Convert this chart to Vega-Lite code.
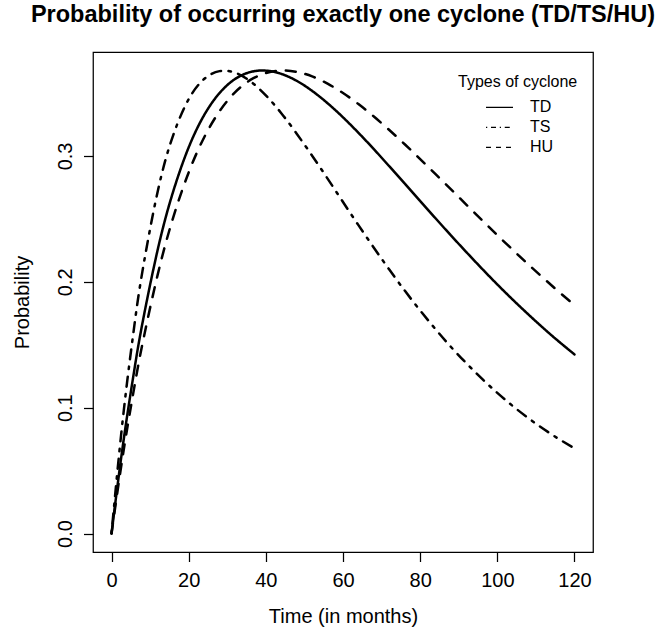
{
  "$schema": "https://vega.github.io/schema/vega-lite/v6.json",
  "width": 500,
  "height": 500,
  "autosize": {"type": "none"},
  "padding": {"left": 93, "top": 52, "right": 68, "bottom": 85},
  "background": "white",
  "title": {
    "text": "Probability of occurring exactly one cyclone (TD/TS/HU)",
    "font": "Liberation Sans",
    "fontSize": 23.5,
    "fontWeight": "bold",
    "color": "black",
    "anchor": "middle",
    "frame": "group",
    "baseline": "alphabetic",
    "offset": 7
  },
  "config": {
    "view": {"stroke": "black", "strokeWidth": 1.25},
    "axis": {
      "domain": false,
      "grid": false,
      "ticks": true,
      "tickSize": 9.5,
      "tickColor": "black",
      "tickWidth": 1.25,
      "labelFont": "Liberation Sans",
      "labelFontSize": 20,
      "labelColor": "black",
      "titleFont": "Liberation Sans",
      "titleFontSize": 20,
      "titleFontWeight": "normal",
      "titleColor": "black"
    }
  },
  "data": {
    "values": [
      {"t": 0, "TD": 0, "TS": 0, "HU": 0},
      {"t": 2, "TD": 0.0486, "TS": 0.0639, "HU": 0.0430},
      {"t": 4, "TD": 0.0924, "TS": 0.1193, "HU": 0.0823},
      {"t": 6, "TD": 0.1317, "TS": 0.1671, "HU": 0.1179},
      {"t": 8, "TD": 0.1669, "TS": 0.2081, "HU": 0.1504},
      {"t": 12, "TD": 0.2259, "TS": 0.2722, "HU": 0.2061},
      {"t": 16, "TD": 0.2719, "TS": 0.3166, "HU": 0.2512},
      {"t": 20, "TD": 0.3068, "TS": 0.3451, "HU": 0.2869},
      {"t": 24, "TD": 0.3324, "TS": 0.3611, "HU": 0.3147},
      {"t": 28, "TD": 0.3500, "TS": 0.3674, "HU": 0.3355},
      {"t": 32, "TD": 0.3611, "TS": 0.3662, "HU": 0.3505},
      {"t": 36, "TD": 0.3667, "TS": 0.3593, "HU": 0.3604},
      {"t": 40, "TD": 0.3678, "TS": 0.3481, "HU": 0.3659},
      {"t": 44, "TD": 0.3652, "TS": 0.3340, "HU": 0.3679},
      {"t": 48, "TD": 0.3597, "TS": 0.3177, "HU": 0.3668},
      {"t": 52, "TD": 0.3517, "TS": 0.3002, "HU": 0.3632},
      {"t": 56, "TD": 0.3419, "TS": 0.2820, "HU": 0.3574},
      {"t": 60, "TD": 0.3307, "TS": 0.2634, "HU": 0.3500},
      {"t": 64, "TD": 0.3184, "TS": 0.2450, "HU": 0.3412},
      {"t": 68, "TD": 0.3054, "TS": 0.2271, "HU": 0.3313},
      {"t": 72, "TD": 0.2918, "TS": 0.2097, "HU": 0.3206},
      {"t": 76, "TD": 0.2781, "TS": 0.1930, "HU": 0.3093},
      {"t": 80, "TD": 0.2642, "TS": 0.1772, "HU": 0.2975},
      {"t": 84, "TD": 0.2504, "TS": 0.1623, "HU": 0.2855},
      {"t": 88, "TD": 0.2368, "TS": 0.1482, "HU": 0.2734},
      {"t": 92, "TD": 0.2235, "TS": 0.1352, "HU": 0.2612},
      {"t": 96, "TD": 0.2105, "TS": 0.1230, "HU": 0.2491},
      {"t": 100, "TD": 0.1979, "TS": 0.1117, "HU": 0.2371},
      {"t": 104, "TD": 0.1858, "TS": 0.1013, "HU": 0.2254},
      {"t": 108, "TD": 0.1742, "TS": 0.0918, "HU": 0.2139},
      {"t": 112, "TD": 0.1630, "TS": 0.0830, "HU": 0.2028},
      {"t": 116, "TD": 0.1524, "TS": 0.0750, "HU": 0.1919},
      {"t": 120, "TD": 0.1423, "TS": 0.0677, "HU": 0.1815}
    ]
  },
  "transform": [{"fold": ["TD", "TS", "HU"], "as": ["type", "p"]}],
  "encoding": {
    "x": {
      "field": "t",
      "type": "quantitative",
      "scale": {"domain": [-4.8, 124.8], "nice": false, "zero": false},
      "axis": {
        "values": [0, 20, 40, 60, 80, 100, 120],
        "title": "Time (in months)",
        "labelBaseline": "alphabetic",
        "labelPadding": 25,
        "titleBaseline": "alphabetic",
        "titleY": 70
      }
    },
    "y": {
      "field": "p",
      "type": "quantitative",
      "scale": {"domain": [-0.0147, 0.3826], "nice": false, "zero": false},
      "axis": {
        "values": [0, 0.1, 0.2, 0.3],
        "format": ".1f",
        "title": "Probability",
        "labelAngle": 270,
        "labelAlign": "center",
        "labelBaseline": "alphabetic",
        "labelPadding": 12.5,
        "titleAngle": 270,
        "titleAlign": "center",
        "titleBaseline": "alphabetic",
        "titleX": -65,
        "titleY": 250
      }
    }
  },
  "layer": [
    {
      "mark": {
        "type": "line",
        "color": "black",
        "strokeWidth": 2.5,
        "strokeCap": "round",
        "strokeJoin": "round",
        "interpolate": "natural"
      },
      "encoding": {
        "strokeDash": {
          "field": "type",
          "type": "nominal",
          "scale": {
            "domain": ["TD", "TS", "HU"],
            "range": [[1, 0], [2.5, 7.5, 10, 7.5], [10, 10]]
          },
          "legend": null
        }
      }
    },
    {
      "mark": {
        "type": "line",
        "color": "black",
        "strokeWidth": 1.25,
        "strokeOpacity": 0,
        "interpolate": "natural"
      },
      "encoding": {
        "strokeDash": {
          "field": "type",
          "type": "nominal",
          "scale": {
            "domain": ["TD", "TS", "HU"],
            "range": [[1, 0], [1.25, 3.75, 5, 3.75], [5, 5]]
          },
          "legend": {
            "orient": "none",
            "legendX": 365,
            "legendY": 21.5,
            "title": "Types of cyclone",
            "titleFont": "Liberation Sans",
            "titleFontSize": 16,
            "titleFontWeight": "normal",
            "titleColor": "black",
            "titleAnchor": "start",
            "titleBaseline": "top",
            "titlePadding": 8,
            "labelFont": "Liberation Sans",
            "labelFontSize": 16,
            "labelColor": "black",
            "symbolType": "stroke",
            "symbolSize": 729,
            "symbolStrokeWidth": 1.25,
            "symbolStrokeColor": "black",
            "symbolOpacity": 1,
            "symbolOffset": 27,
            "labelOffset": 16,
            "clipHeight": 19.5,
            "rowPadding": 0,
            "padding": 0
          }
        }
      }
    }
  ],
  "resolve": {"scale": {"strokeDash": "independent"}, "legend": {"strokeDash": "independent"}}
}
